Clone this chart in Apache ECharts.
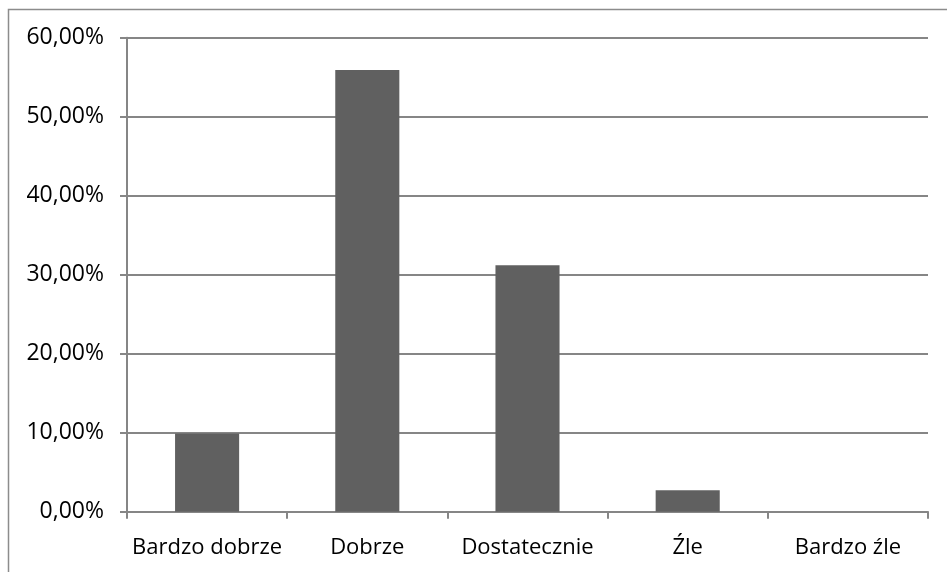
<!DOCTYPE html>
<html>
<head>
<meta charset="utf-8">
<script src="https://cdn.jsdelivr.net/npm/echarts@6/dist/echarts.min.js"></script>
<style>html,body{margin:0;padding:0;background:#fff}#c{width:947px;height:572px}</style>
</head>
<body>
<div id="c"></div>
<script>
var categories = ['Bardzo dobrze', 'Dobrze', 'Dostatecznie', 'Źle', 'Bardzo źle'];
var values = [9.9, 55.9, 31.2, 2.7, 0];
var yTicks = [0, 10, 20, 30, 40, 50, 60];

var chart = echarts.init(document.getElementById('c'), null, {renderer: 'canvas'});
var fontFam = '"Open Sans", sans-serif';
chart.setOption({
  animation: false,
  backgroundColor: '#fff',
  graphic: [{
    type: 'rect', shape: {x: 8.5, y: 9.5, width: 960, height: 600},
    style: {fill: 'none', stroke: '#8c8c8c', lineWidth: 1.5}, z: -1
  }],
  grid: {left: 127, right: 19, top: 37.7, bottom: 60.3, containLabel: false},
  xAxis: {
    type: 'category', data: categories,
    axisLine: {lineStyle: {color: '#868686', width: 2}},
    axisTick: {show: true, interval: 0, length: 7, lineStyle: {color: '#868686', width: 2}},
    axisLabel: {color: '#000', fontSize: 22, fontFamily: fontFam, margin: 25, interval: 0, hideOverlap: false}
  },
  yAxis: {
    type: 'value', min: yTicks[0], max: yTicks[yTicks.length - 1], interval: 10,
    axisLine: {show: true, lineStyle: {color: '#868686', width: 2}},
    axisTick: {show: true, length: 7, lineStyle: {color: '#868686', width: 2}},
    splitLine: {lineStyle: {color: '#868686', width: 2}},
    axisLabel: {color: '#000', fontSize: 23, fontFamily: fontFam, margin: 23,
      formatter: function (v) { return v.toFixed(2).replace('.', ',') + '%'; }}
  },
  series: [{
    type: 'bar', data: values, barWidth: '40%',
    itemStyle: {color: '#606060'}
  }]
});
</script>
</body>
</html>
